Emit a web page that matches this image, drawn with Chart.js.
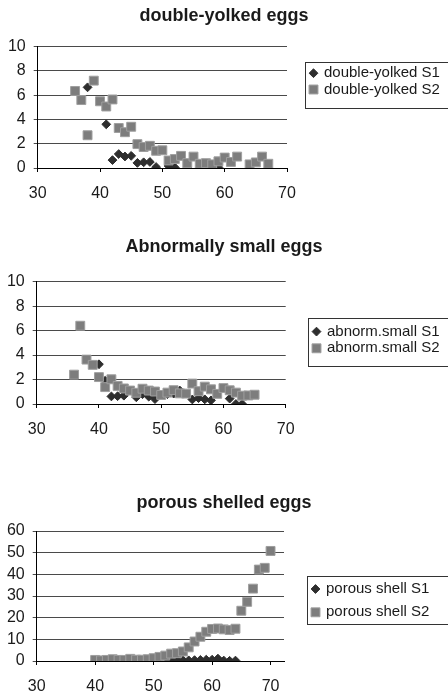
<!DOCTYPE html>
<html>
<head>
<meta charset="utf-8">
<script src="https://cdn.jsdelivr.net/npm/chart.js@4.4.0/dist/chart.umd.min.js"></script>
<style>
  html, body { margin: 0; padding: 0; background: #fff; }
  body { width: 448px; height: 694px; position: relative; overflow: hidden; }
  canvas { position: absolute; left: 0; }
</style>
</head>
<body>
<canvas id="c1" width="448" height="215" style="top:0px"></canvas>
<canvas id="c2" width="448" height="230" style="top:215px"></canvas>
<canvas id="c3" width="448" height="249" style="top:445px"></canvas>
<script>
// ages (x) and percentages (y)
const dyAgeS1 = [38, 41, 42, 43, 44, 45, 46, 47, 48, 49, 51, 52, 54, 57, 59];
const dyS1 = [6.65, 3.6, 0.65, 1.15, 0.95, 1.0, 0.42, 0.47, 0.5, 0.08, 0.17, 0.04, 0, 0, 0.05];
const dyAgeS2 = [36, 37, 38, 39, 40, 41, 42, 43, 44, 45, 46, 47, 48, 49, 50, 51, 52, 53, 54, 55, 56, 57, 58, 59, 60, 61, 62, 64, 65, 66, 67];
const dyS2 = [6.35, 5.6, 2.7, 7.2, 5.5, 5.07, 5.65, 3.3, 2.95, 3.4, 1.97, 1.73, 1.83, 1.42, 1.46, 0.62, 0.74, 1.0, 0.4, 0.94, 0.35, 0.4, 0.3, 0.55, 0.86, 0.5, 0.94, 0.3, 0.46, 0.94, 0.35];

const smAgeS1 = [40, 41, 42, 43, 44, 46, 47, 48, 49, 51, 52, 53, 55, 56, 57, 58, 61, 62, 63];
const smS1 = [3.25, 1.9, 0.62, 0.64, 0.68, 0.55, 0.8, 0.6, 0.4, 0.8, 0.85, 1.1, 0.37, 0.48, 0.38, 0.3, 0.44, 0, 0];
const smAgeS2 = [36, 37, 38, 39, 40, 41, 42, 43, 44, 45, 46, 47, 48, 49, 50, 51, 52, 53, 54, 55, 56, 57, 58, 59, 60, 61, 62, 63, 64, 65];
const smS2 = [2.4, 6.4, 3.63, 3.2, 2.2, 1.38, 2.02, 1.48, 1.27, 1.1, 0.92, 1.25, 1.1, 1.02, 0.74, 0.93, 1.13, 0.87, 0.85, 1.67, 1.05, 1.42, 1.2, 0.83, 1.3, 1.12, 0.93, 0.68, 0.7, 0.76];

const poAgeS1 = [40, 41, 42, 43, 44, 45, 46, 47, 48, 49, 50, 51, 52, 53, 54, 55, 56, 57, 58, 59, 60, 61, 62, 63, 64];
const poS1 = [0, 0, 0, 0, 0, 0, 0, 0, 0, 0, 0.1, 0.1, 0.2, 0.2, 0.3, 0.4, 0.3, 0.4, 0.5, 0.6, 0.6, 1.1, 0.2, 0.1, 0.2];
const poAgeS2 = [40, 41, 42, 43, 44, 45, 46, 47, 48, 49, 50, 51, 52, 53, 54, 55, 56, 57, 58, 59, 60, 61, 62, 63, 64, 65, 66, 67, 68, 69, 70];
const poS2 = [0.5, 0.3, 0.5, 0.8, 0.5, 0.5, 1.0, 0.6, 0.6, 0.8, 1.3, 1.9, 2.5, 3.4, 3.6, 4.4, 6.3, 9.0, 11.2, 13.5, 14.8, 15.0, 14.6, 14.3, 14.9, 23.2, 27.3, 33.4, 42.2, 43.0, 50.8];

const ageTicks = [30, 40, 50, 60, 70];
const smallTicks = [0, 2, 4, 6, 8, 10];
const porousTicks = [0, 10, 20, 30, 40, 50, 60];

const FONT = '"Liberation Sans", Arial, sans-serif';

function pts(xs, ys) {
  return xs.map((x, i) => ({ x: x, y: ys[i] }));
}

// legend with a frame, like the Excel one
const boxLegend = {
  id: 'boxLegend',
  afterDraw(chart, args, o) {
    const ctx = chart.ctx;
    ctx.save();
    ctx.strokeStyle = '#333';
    ctx.lineWidth = 1;
    ctx.strokeRect(Math.round(o.x) + 0.5, Math.round(o.y) + 0.5, 200, Math.round(o.h));
    ctx.font = '15px ' + FONT;
    ctx.textBaseline = 'middle';
    ctx.textAlign = 'left';
    chart.data.datasets.forEach((ds, i) => {
      const cy = o.y + o.first + i * o.gap;
      ctx.fillStyle = ds.backgroundColor;
      ctx.strokeStyle = ds.borderColor;
      ctx.lineWidth = ds.borderWidth;
      Chart.helpers.drawPoint(ctx, { pointStyle: ds.pointStyle, radius: ds.pointRadius, rotation: 0, borderWidth: ds.borderWidth }, o.x + 8.5, cy);
      ctx.fillStyle = '#1a1a1a';
      ctx.fillText(ds.label, o.x + 19, cy);
    });
    ctx.restore();
  }
};

function makeChart(id, p) {
  new Chart(document.getElementById(id), {
    type: 'scatter',
    data: {
      datasets: [{
        label: p.labels[0],
        data: p.s1,
        pointStyle: 'rectRot',
        pointRadius: 4.4,
        backgroundColor: '#2e2e2e',
        borderColor: '#2e2e2e',
        borderWidth: 1,
        order: 1
      }, {
        label: p.labels[1],
        data: p.s2,
        pointStyle: 'rect',
        pointRadius: 6.3,
        backgroundColor: '#7d7d7d',
        borderColor: '#9f9f9f',
        borderWidth: 1,
        order: 0
      }]
    },
    options: {
      responsive: false,
      animation: false,
      events: [],
      layout: { padding: 0 },
      plugins: {
        legend: { display: false },
        tooltip: { enabled: false },
        title: {
          display: true,
          text: p.title,
          color: '#1a1a1a',
          font: { family: FONT, size: 18, weight: 'bold' },
          padding: { top: p.titleTop, bottom: p.titleBottom }
        },
        boxLegend: p.legend
      },
      scales: {
        x: {
          type: 'linear',
          min: 30,
          max: p.xMax,
          afterBuildTicks: s => { s.ticks = ageTicks.map(v => ({ value: v })); },
          afterFit: s => { s.height = p.xHeight; },
          grid: { display: true, drawOnChartArea: false, drawTicks: true, tickLength: 4, color: '#000' },
          border: { display: true, color: '#000', width: 1 },
          ticks: { color: '#1a1a1a', font: { family: FONT, size: 16 }, padding: 12, maxRotation: 0, autoSkip: false }
        },
        y: {
          type: 'linear',
          min: 0,
          max: p.yTicks[p.yTicks.length - 1],
          afterBuildTicks: s => { s.ticks = p.yTicks.map(v => ({ value: v })); },
          afterFit: s => { s.width = p.yWidth; },
          grid: { color: '#4a4a4a', lineWidth: 1, tickLength: 4 },
          border: { display: true, color: '#000', width: 1 },
          ticks: { color: '#1a1a1a', font: { family: FONT, size: 16 }, padding: 8, autoSkip: false }
        },
        // empty axis on the right only to leave room for the legend
        side: {
          type: 'linear',
          position: 'right',
          display: true,
          grid: { display: false },
          border: { display: false },
          ticks: { display: false },
          afterFit: s => { s.width = p.rightWidth; }
        }
      }
    },
    plugins: [boxLegend]
  });
}

makeChart('c1', {
  title: 'double-yolked eggs',
  labels: ['double-yolked S1', 'double-yolked S2'],
  s1: pts(dyAgeS1, dyS1),
  s2: pts(dyAgeS2, dyS2),
  yTicks: smallTicks,
  xMax: 70,
  titleTop: 4.9, titleBottom: 20.2,
  yWidth: 37.7, rightWidth: 161, xHeight: 47,
  legend: { x: 305, y: 61.7, h: 46, first: 11.5, gap: 16.3 }
});

makeChart('c2', {
  title: 'Abnormally small eggs',
  labels: ['abnorm.small S1', 'abnorm.small S2'],
  s1: pts(smAgeS1, smS1),
  s2: pts(smAgeS2, smS2),
  yTicks: smallTicks,
  xMax: 70,
  titleTop: 21.5, titleBottom: 23.6,
  yWidth: 36.7, rightWidth: 162.3, xHeight: 41,
  legend: { x: 308, y: 103.3, h: 47.7, first: 13.3, gap: 16.7 }
});

makeChart('c3', {
  title: 'porous shelled eggs',
  labels: ['porous shell S1', 'porous shell S2'],
  s1: pts(poAgeS1, poS1),
  s2: pts(poAgeS2, poS2),
  yTicks: porousTicks,
  xMax: 72.3,
  titleTop: 47.5, titleBottom: 16.9,
  yWidth: 36.7, rightWidth: 164, xHeight: 33,
  legend: { x: 307, y: 130.7, h: 47.7, first: 13.3, gap: 23.3 }
});
</script>
</body>
</html>
